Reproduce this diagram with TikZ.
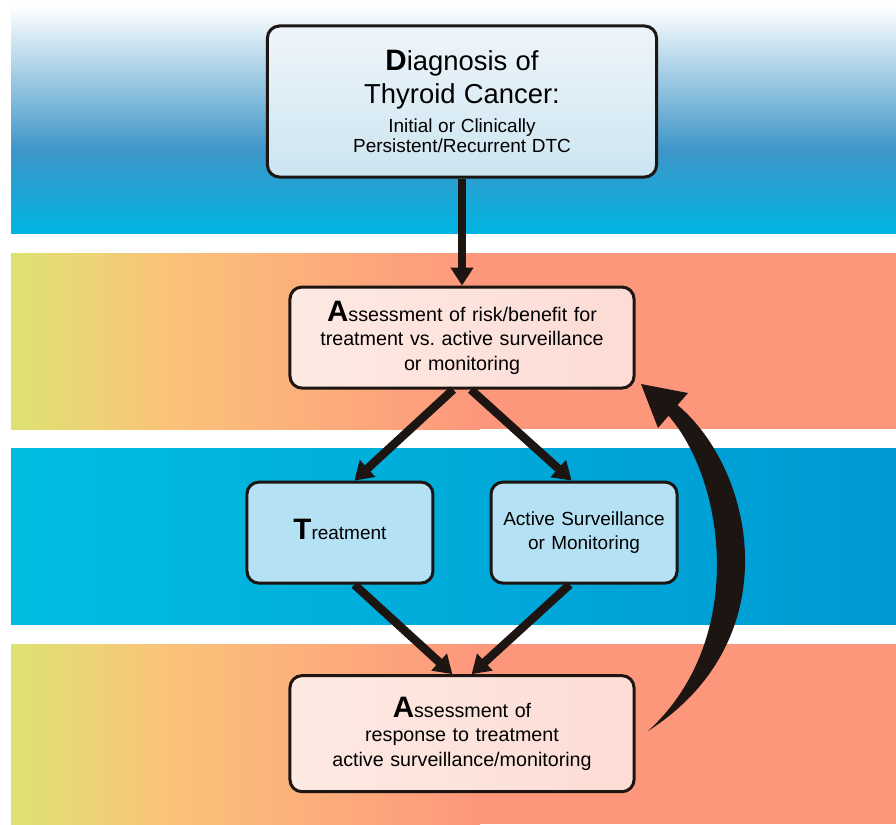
\documentclass[tikz,border=0pt]{standalone}
\usepackage{fontspec}
\setmainfont{Liberation Sans}
\frenchspacing
\usetikzlibrary{shapes.geometric, arrows.meta, positioning}

\definecolor{inkblack}{HTML}{1C1512}
\definecolor{skytop}{HTML}{3E95C8}
\definecolor{skycyan}{HTML}{00B4E2}
\definecolor{limeedge}{HTML}{DDE372}
\definecolor{apricot}{HTML}{FBC27A}
\definecolor{salmon}{HTML}{FD977C}
\definecolor{seacyan}{HTML}{00BDE0}
\definecolor{seablue}{HTML}{0099D4}
\definecolor{headtop}{HTML}{EEF5FA}
\definecolor{headbottom}{HTML}{CCE5F1}
\definecolor{blushleft}{HTML}{FDEAE3}
\definecolor{blushright}{HTML}{FCDCD5}
\definecolor{paleblue}{HTML}{B4E1F3}

\newcommand{\bigini}[1]{{\fontsize{21pt}{21pt}\selectfont\bfseries #1}}
\newcommand{\sizeset}[2]{\fontsize{#1}{#2}\selectfont\spaceskip=0.3em\relax}

\tikzstyle{headbox} = [
    rectangle,
    rounded corners=0.3cm,
    minimum width=9.725cm,
    minimum height=3.775cm,
    text width=9cm,
    align=center,
    draw=inkblack,
    line width=0.075cm,
    top color=headtop,
    bottom color=headbottom
]
\tikzstyle{assessbox} = [
    rectangle,
    rounded corners=0.3cm,
    minimum width=8.6cm,
    minimum height=2.525cm,
    text width=8cm,
    align=center,
    draw=inkblack,
    line width=0.075cm,
    left color=blushleft,
    right color=blushright,
    font=\sizeset{14pt}{17.5pt}
]
\tikzstyle{choicebox} = [
    rectangle,
    rounded corners=0.3cm,
    minimum width=4.65cm,
    minimum height=2.525cm,
    text width=4.4cm,
    align=center,
    draw=inkblack,
    line width=0.075cm,
    fill=paleblue,
    font=\sizeset{13.5pt}{17pt}
]
\tikzstyle{arrow} = [draw=inkblack, line width=0.21cm, -{Triangle[length=0.45cm,width=0.55cm]}]

\begin{document}
\begin{tikzpicture}[x=0.025cm, y=-0.025cm]

\useasboundingbox (0,0) rectangle (896,824);
\fill[white] (0,0) rectangle (896,824);

% bands
\shade[top color=white, bottom color=skytop] (11,6) rectangle (896,150);
\shade[top color=skytop, bottom color=skycyan] (11,150) rectangle (896,233);
\foreach \ytop/\ybot in {253/429, 644/824} {
    \shade[left color=limeedge, right color=apricot] (11,\ytop) rectangle (170,\ybot);
    \shade[left color=apricot, right color=salmon] (170,\ytop) rectangle (480,\ybot);
    \fill[salmon] (480,\ytop) rectangle (896,\ybot);
}
\shade[left color=seacyan, right color=seablue] (11,448) rectangle (896,624);

\node (diagnosis) [headbox] at (462,101.5)
{{\sizeset{19.5pt}{23.4pt}\bigini{D}iagnosis of\\ Thyroid Cancer:\par}
\vspace{6pt}
{\sizeset{13.5pt}{14.2pt}Initial or Clinically\\ Persistent/Recurrent DTC\par}};

\node (assessrisk) [assessbox, below of=diagnosis, node distance=5.9cm]
{\bigini{A}ssessment of risk/benefit for\\ treatment vs. active surveillance\\ or monitoring};

\node (treatment) [choicebox, below of=assessrisk, node distance=4.875cm, xshift=-3.05cm]
{\bigini{T}reatment\vspace{5pt}};

\node (surveil) [choicebox, below of=assessrisk, node distance=4.875cm, xshift=3.05cm]
{Active Surveillance\\ or Monitoring};

\node (assessresp) [assessbox, below of=assessrisk, node distance=9.9cm, minimum height=2.9cm]
{\bigini{A}ssessment of\\ response to treatment\\ active surveillance/monitoring};

\draw [arrow] (diagnosis) -- (assessrisk);
\draw [arrow] ([xshift=-0.22cm]assessrisk.south) -- ([xshift=0.36cm]treatment.north);
\draw [arrow] ([xshift=0.22cm]assessrisk.south) -- ([xshift=-0.31cm]surveil.north);
\draw [arrow] ([xshift=0.36cm]treatment.south) -- ([xshift=-0.24cm]assessresp.north);
\draw [arrow] ([xshift=-0.36cm]surveil.south) -- ([xshift=0.24cm]assessresp.north);

% feedback loop
\coordinate (looptail) at (648,731);
\coordinate (looptip) at (641,384);
\fill[inkblack] (looptail) .. controls (748,640) and (725,480) .. (668.5,415.75)
    -- (658,428) -- (looptip) -- (688,393) -- (677.5,405)
    .. controls (755,470) and (790,640) .. (looptail) -- cycle;

\end{tikzpicture}
\end{document}
